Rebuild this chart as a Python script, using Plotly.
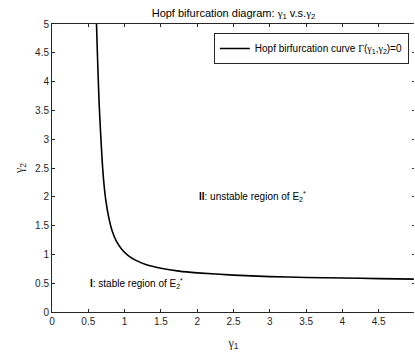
import plotly.graph_objects as go

# Hopf bifurcation curve Gamma(gamma1, gamma2) = 0, sampled points
gamma1 = [0.613, 0.63, 0.65, 0.67, 0.69, 0.71, 0.74, 0.78, 0.83, 0.89, 0.96,
          1.05, 1.15, 1.30, 1.50, 1.75, 2.00, 2.50, 3.00, 3.50, 4.00, 4.50, 5.00]
gamma2 = [5.00, 4.30, 3.60, 3.10, 2.65, 2.30, 1.95, 1.65, 1.40, 1.22, 1.09,
          0.98, 0.90, 0.82, 0.76, 0.71, 0.68, 0.64, 0.615, 0.60, 0.59, 0.58, 0.57]

x_ticks = [0, 0.5, 1, 1.5, 2, 2.5, 3, 3.5, 4, 4.5]
y_ticks = [0, 0.5, 1, 1.5, 2, 2.5, 3, 3.5, 4, 4.5, 5]

SANS = "Liberation Sans, Arial, sans-serif"
SERIF = "Liberation Serif, Times New Roman, serif"
AX = "#262626"


def g(sub):
    return f'<span style="font-family:{SERIF}">γ</span><sub>{sub}</sub>'


fig = go.Figure()
fig.add_trace(go.Scatter(
    x=gamma1, y=gamma2, mode="lines",
    line=dict(color="black", width=1.6, shape="spline", smoothing=0.6),
    name=f'Hopf birfurcation curve <span style="font-family:{SERIF}">Γ</span>({g(1)},{g(2)})=0',
))

axis_common = dict(
    showline=True, linecolor=AX, linewidth=1, mirror="ticks",
    ticks="inside", ticklen=3, tickcolor=AX, tickwidth=1,
    showgrid=False, zeroline=False,
    tickfont=dict(family=SANS, size=10, color=AX),
)

fig.update_xaxes(range=[0, 5], tickvals=x_ticks, ticktext=[f"{v:g}" for v in x_ticks],
                 title=dict(text=g(1), font=dict(family=SANS, size=12, color=AX), standoff=12),
                 **axis_common)
fig.update_yaxes(range=[0, 5], tickvals=y_ticks, ticktext=[f"{v:g}" for v in y_ticks],
                 title=dict(text=g(2), font=dict(family=SANS, size=12, color=AX), standoff=8),
                 **axis_common)

fig.add_annotation(x=0.5, y=0.5, xref="x", yref="y", xanchor="left", yanchor="middle",
                   showarrow=False,
                   text="<b>I</b>: stable region of E<sub>2</sub><sup>*</sup>",
                   font=dict(family=SANS, size=10, color="black"))
fig.add_annotation(x=2.0, y=2.0, xref="x", yref="y", xanchor="left", yanchor="middle",
                   showarrow=False,
                   text="<b>II</b>: unstable region of E<sub>2</sub><sup>*</sup>",
                   font=dict(family=SANS, size=10, color="black"))

# the right-hand box edge sits at the page edge; keep only its tick marks
fig.add_shape(type="rect", xref="paper", yref="paper",
              x0=1 - 1.2 / 363, x1=1.02, y0=-0.02, y1=1.02,
              fillcolor="white", line=dict(width=0), layer="above")

fig.update_layout(
    width=415, height=354,
    margin=dict(l=52, r=0, t=24, b=42),
    paper_bgcolor="white", plot_bgcolor="white",
    title=dict(text=f"Hopf bifurcation diagram: {g(1)} v.s.{g(2)}",
               x=0.5, xref="paper", xanchor="center",
               y=1 - 13 / 354, yref="container", yanchor="middle",
               font=dict(family=SANS, size=11, color="black")),
    showlegend=True,
    legend=dict(x=0.983, y=0.969, xanchor="right", yanchor="top",
                bgcolor="white", bordercolor=AX, borderwidth=1,
                font=dict(family=SANS, size=10, color="black"),
                itemwidth=30, tracegroupgap=0),
)

fig.write_html("out.html")
